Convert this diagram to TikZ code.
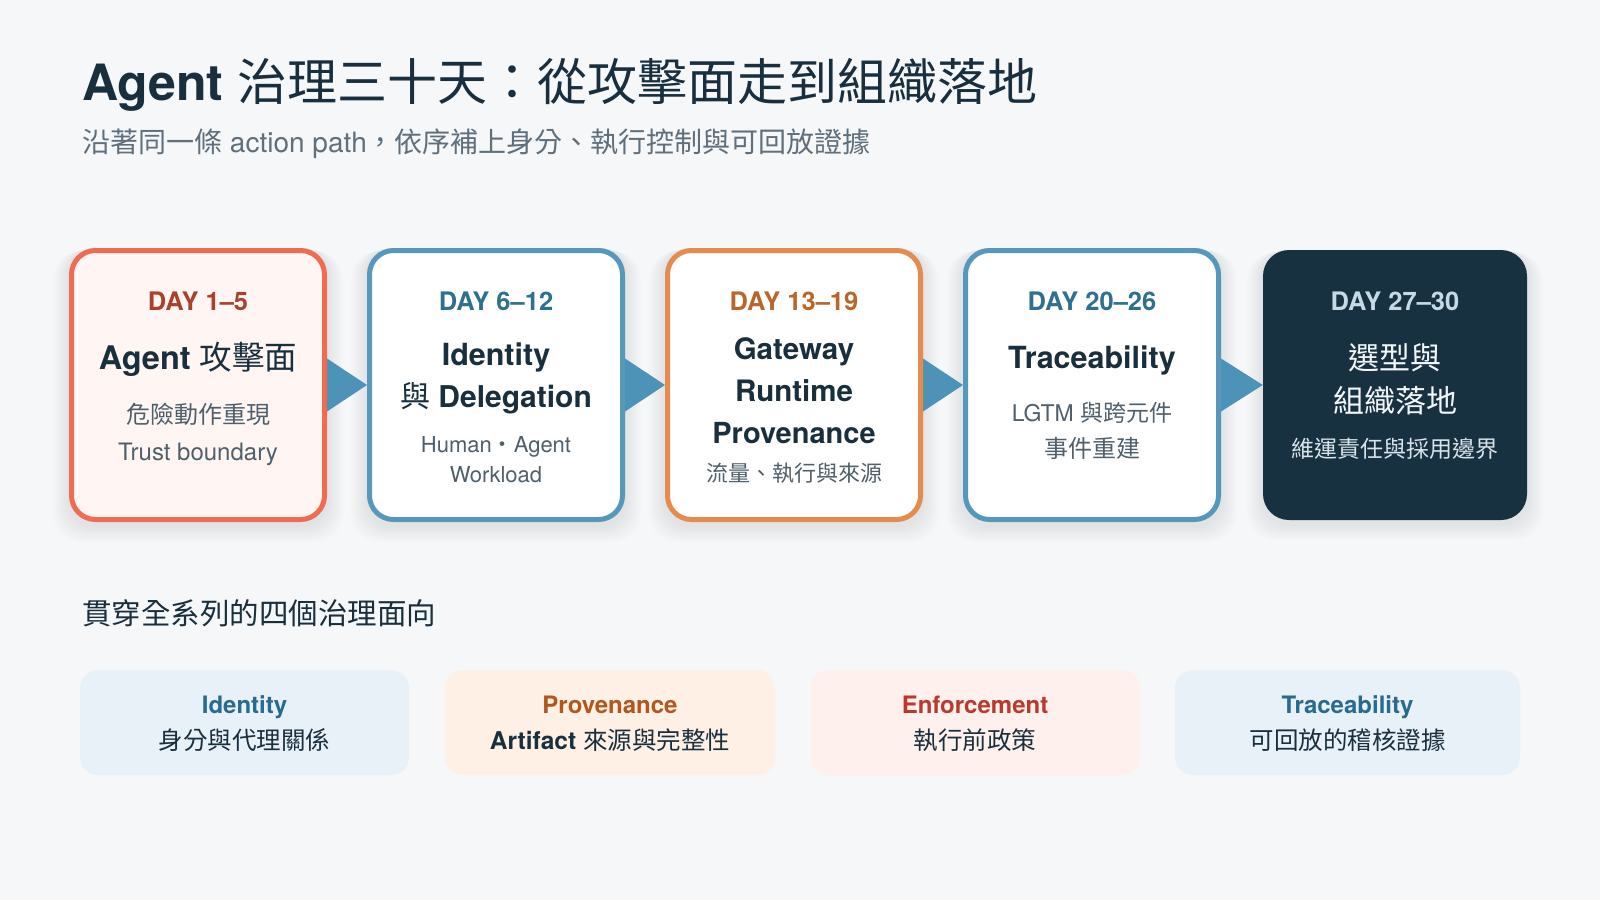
\documentclass[tikz,border=0pt]{standalone}
\usepackage{fontspec}
\setmainfont{TeX Gyre Heros}
\newfontfamily\cjk{Noto Sans CJK TC}
\newcommand\C[1]{{\cjk\mdseries #1}}
\newcommand\fs[1]{\fontsize{#1}{#1}\selectfont}
\pgfdeclarelayer{bg}
\pgfsetlayers{bg,main}
\definecolor{pagebg}{HTML}{F5F7F9}
\definecolor{navy}{HTML}{1A2F3E}
\definecolor{txtgray}{HTML}{4F606C}
\definecolor{subgray}{HTML}{5F6F7B}
\definecolor{redline}{HTML}{EF6C50}
\definecolor{redfill}{HTML}{FFF6F3}
\definecolor{redday}{HTML}{A9412D}
\definecolor{blueline}{HTML}{5598BB}
\definecolor{blueday}{HTML}{2F7090}
\definecolor{orgline}{HTML}{E48B4D}
\definecolor{orgday}{HTML}{B9662C}
\definecolor{darkfill}{HTML}{183141}
\definecolor{darkday}{HTML}{C6DAE6}
\definecolor{darkttl}{HTML}{F3F6F8}
\definecolor{darksub}{HTML}{D9E3EA}
\definecolor{arrowc}{HTML}{4D92B7}
\definecolor{cardblue}{HTML}{E8F1F7}
\definecolor{cardorg}{HTML}{FEF0E5}
\definecolor{cardred}{HTML}{FEF0EC}
\definecolor{lblblue}{HTML}{2A6A8C}
\definecolor{lblorg}{HTML}{B0561F}
\definecolor{lblred}{HTML}{B8392E}
\tikzset{
  stagebox/.style={rounded corners=24pt, line width=5pt, minimum width=253pt, minimum height=269pt, inner sep=0pt},
  darkbox/.style={rounded corners=26pt, fill=darkfill, minimum width=264pt, minimum height=270pt, inner sep=0pt},
  card/.style={rounded corners=18pt, minimum height=105pt, inner sep=0pt},
  lbl/.style={anchor=base, inner sep=0pt, align=center},
  dayt/.style={lbl, font=\fs{25.5}\bfseries},
  ttl/.style={lbl, font=\fs{31}\bfseries, text=navy},
  subt/.style={lbl, font=\fs{23}, text=txtgray},
  clbl/.style={lbl, font=\fs{24}\bfseries},
  ctxt/.style={lbl, font=\fs{24.5}, text=navy},
}
\begin{document}
\begin{tikzpicture}[x=1pt,y=-1pt]
\useasboundingbox (0,0) rectangle (1600,900);
\begin{pgfonlayer}{bg}
\fill[pagebg] (0,0) rectangle (1600,900);
\end{pgfonlayer}

% title
\node[anchor=base west, inner sep=0pt, text=navy] (title) at (82,100) {\fs{50}\bfseries Agent \C{治理三十天：從攻擊面走到組織落地}};
\node[anchor=base west, inner sep=0pt, text=subgray] (subtitle) at (82,152) {\fs{28}\C{沿著同一條} action path\C{，依序補上身分、執行控制與可回放證據}};

% stage boxes
\node[stagebox, draw=redline, fill=redfill] (b1) at (198,385) {};
\node[stagebox, draw=blueline, fill=white] (b2) at (496,385) {};
\node[stagebox, draw=orgline, fill=white] (b3) at (794,385) {};
\node[stagebox, draw=blueline, fill=white] (b4) at (1092,385) {};
\node[darkbox] (b5) at (1395,385) {};

\begin{pgfonlayer}{bg}
\foreach \n in {b1,b2,b3,b4,b5}{
  \foreach \k in {1,...,10}{
    \fill[navy, opacity=0.007, rounded corners=28pt]
      ([shift={(-1.6*\k,-1+0.4*\k)}]\n.north west) rectangle ([shift={(1.6*\k,4+1.6*\k)}]\n.south east);
  }
}
\fill[arrowc] ([yshift=26.5pt]b1.east) -- ([yshift=-26.5pt]b1.east) -- (b2.west) -- cycle;
\fill[arrowc] ([yshift=26.5pt]b2.east) -- ([yshift=-26.5pt]b2.east) -- (b3.west) -- cycle;
\fill[arrowc] ([yshift=26.5pt]b3.east) -- ([yshift=-26.5pt]b3.east) -- (b4.west) -- cycle;
\fill[arrowc] ([yshift=26.5pt]b4.east) -- ([yshift=-26.5pt]b4.east) -- (b5.west) -- cycle;
\end{pgfonlayer}

% box 1
\node[dayt, text=redday] (d1) at (198,310) {DAY 1–5};
\node[ttl, font=\fs{32.5}\bfseries] (t1) at (198,369) {Agent \C{攻擊面}};
\node[subt, font=\fs{24}] (s1a) at (198,423) {\C{危險動作重現}};
\node[subt, font=\fs{24}] (s1b) at (198,460) {Trust boundary};

% box 2
\node[dayt, text=blueday] (d2) at (496,310) {DAY 6–12};
\node[ttl, font=\fs{30.5}\bfseries] (t2a) at (496,365) {Identity};
\node[ttl, font=\fs{30}\bfseries] (t2b) at (496,407) {\C{與} Delegation};
\node[subt, font=\fs{22}] (s2a) at (496,452) {Human\C{・}Agent};
\node[subt, font=\fs{22}] (s2b) at (496,482) {Workload};

% box 3
\node[dayt, text=orgday] (d3) at (794,310) {DAY 13–19};
\node[ttl, font=\fs{29.5}\bfseries] (t3a) at (794,359) {Gateway};
\node[ttl, font=\fs{29.5}\bfseries] (t3b) at (794,401) {Runtime};
\node[ttl, font=\fs{29}\bfseries] (t3c) at (794,443) {Provenance};
\node[subt, font=\fs{22}] (s3) at (794,481) {\C{流量、執行與來源}};

% box 4
\node[dayt, text=blueday] (d4) at (1092,310) {DAY 20–26};
\node[ttl, font=\fs{30.5}\bfseries] (t4) at (1092,368) {Traceability};
\node[subt] (s4a) at (1092,421) {LGTM \C{與跨元件}};
\node[subt, font=\fs{24}] (s4b) at (1092,457) {\C{事件重建}};

% box 5
\node[dayt, text=darkday] (d5) at (1395,310) {DAY 27–30};
\node[lbl, font=\fs{31}, text=darkttl] (t5a) at (1395,369) {\C{選型與}};
\node[lbl, font=\fs{31}, text=darkttl] (t5b) at (1395,412) {\C{組織落地}};
\node[lbl, font=\fs{23}, text=darksub] (s5) at (1395,457) {\C{維運責任與採用邊界}};

% section heading
\node[anchor=base west, inner sep=0pt, text=navy] (sec) at (82,624) {\fs{29.5}\C{貫穿全系列的四個治理面向}};

% cards
\node[card, fill=cardblue, minimum width=329pt] (c1) at (244.5,722.5) {};
\node[card, fill=cardorg, minimum width=330pt] (c2) at (610,722.5) {};
\node[card, fill=cardred, minimum width=330pt] (c3) at (975,722.5) {};
\node[card, fill=cardblue, minimum width=345pt] (c4) at (1347.5,722.5) {};

\node[clbl, text=lblblue] (c1a) at (244.5,713) {Identity};
\node[ctxt] (c1b) at (244.5,749) {\C{身分與代理關係}};
\node[clbl, text=lblorg] (c2a) at (610,713) {Provenance};
\node[ctxt] (c2b) at (610,749) {\textbf{Artifact} \C{來源與完整性}};
\node[clbl, text=lblred] (c3a) at (975,713) {Enforcement};
\node[ctxt] (c3b) at (975,749) {\C{執行前政策}};
\node[clbl, text=lblblue] (c4a) at (1347.5,713) {Traceability};
\node[ctxt] (c4b) at (1347.5,749) {\C{可回放的稽核證據}};
\end{tikzpicture}
\end{document}
